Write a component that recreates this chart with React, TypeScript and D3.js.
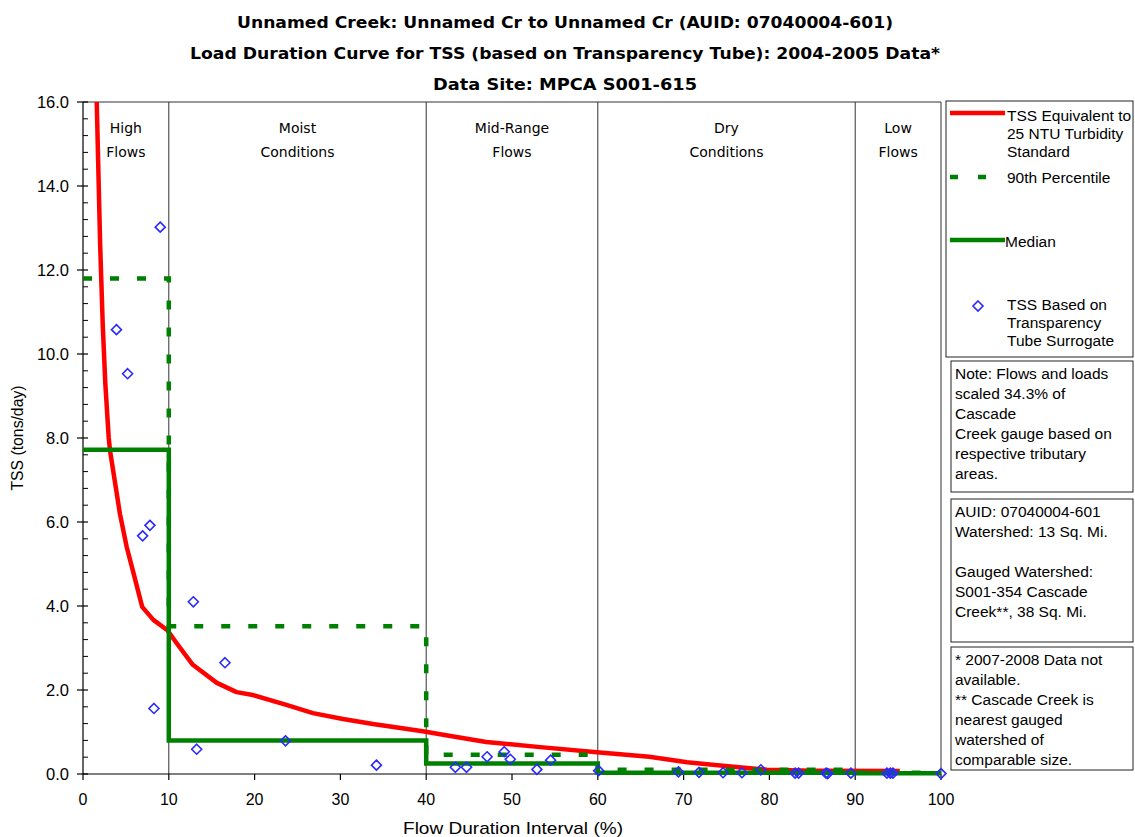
import React from "react";
import * as d3 from "d3";

// Load duration curve data (flow duration interval %, TSS tons/day)
const standardCurve: [number, number][] = [
  [1.6, 16.0], [2.0, 12.6], [2.3, 10.7], [2.6, 9.3], [3.0, 8.0], [3.15, 7.7],
  [4.3, 6.2], [5.1, 5.4], [5.7, 4.93], [6.9, 3.98], [8.2, 3.67], [9.8, 3.43],
  [10.9, 3.12], [12.8, 2.6], [15.6, 2.17], [17.9, 1.95], [19.8, 1.88],
  [23.8, 1.64], [26.8, 1.45], [30.3, 1.31], [33.8, 1.19], [39.6, 1.02],
  [43.0, 0.9], [47.0, 0.76], [53.3, 0.64], [59.9, 0.52], [66.0, 0.41],
  [70.4, 0.28], [75.8, 0.17], [79.7, 0.1], [85.0, 0.08], [95.2, 0.07],
];

const zoneBreaks = [0, 10, 40, 60, 90, 100];
const percentile90 = [11.8, 3.52, 0.46, 0.1, 0.03];
const medianValues = [7.72, 0.8, 0.25, 0.03, 0.02];

const tssSamples: [number, number][] = [
  [3.9, 10.58], [5.2, 9.53], [6.95, 5.67], [7.8, 5.92], [8.27, 1.56],
  [9.0, 13.02], [12.86, 4.1], [13.25, 0.59], [16.55, 2.65], [23.6, 0.79],
  [34.2, 0.21], [43.4, 0.16], [44.7, 0.16], [47.1, 0.41], [49.1, 0.53],
  [49.8, 0.35], [52.9, 0.11], [54.5, 0.33], [60.1, 0.08], [69.4, 0.05],
  [71.8, 0.04], [74.6, 0.03], [76.8, 0.03], [79.0, 0.1], [83.0, 0.02],
  [83.4, 0.02], [86.6, 0.02], [86.8, 0.01], [89.5, 0.02], [93.7, 0.02],
  [94.1, 0.02], [94.4, 0.02], [100, 0.01],
];

const zoneNames: [string, string][] = [
  ["High", "Flows"],
  ["Moist", "Conditions"],
  ["Mid-Range", "Flows"],
  ["Dry", "Conditions"],
  ["Low", "Flows"],
];

const titleLines = [
  "Unnamed Creek: Unnamed Cr to Unnamed Cr (AUID: 07040004-601)",
  "Load Duration Curve for TSS (based on Transparency Tube): 2004-2005 Data*",
  "Data Site: MPCA S001-615",
];

const xTicks = d3.range(0, 101, 10);
const yMajorTicks = d3.range(0, 16.01, 2);
const yMinorTicks = d3.range(0, 16.01, 0.4).filter((v) => Math.abs(v / 2 - Math.round(v / 2)) > 0.01);

const legendStandard = ["TSS Equivalent to", "25 NTU Turbidity", "Standard"];
const legendP90 = ["90th Percentile"];
const legendMedian = ["Median"];
const legendSamples = ["TSS Based on", "Transparency", "Tube Surrogate"];

const noteLines = [
  "Note: Flows and loads",
  "scaled 34.3% of",
  "Cascade",
  "Creek gauge based on",
  "respective tributary",
  "areas.",
];
const watershedLines = [
  "AUID: 07040004-601",
  "Watershed: 13 Sq. Mi.",
  "",
  "Gauged Watershed:",
  "S001-354 Cascade",
  "Creek**, 38 Sq. Mi.",
];
const footnoteLines = [
  "* 2007-2008 Data not",
  "available.",
  "** Cascade Creek is",
  "nearest gauged",
  "watershed of",
  "comparable size.",
];

const W = 1135;
const H = 837;
const PL = 83, PR = 941, PT = 102, PB = 774;

const RED = "#ff0000";
const GREEN = "#008000";
const BLUE = "#2a2aff";
const SANS = "'Liberation Sans', Arial, sans-serif";
const HAND = "'Comic Sans MS', 'DejaVu Sans', sans-serif";
const BOX_FONT = 15.5;

function stepPoints(values: number[]): [number, number][] {
  const pts: [number, number][] = values.map((v, i) => [zoneBreaks[i], v]);
  pts.push([zoneBreaks[zoneBreaks.length - 1], values[values.length - 1]]);
  return pts;
}

function Diamond({ cx, cy, r }: { cx: number; cy: number; r: number }) {
  return (
    <path
      d={`M${cx},${cy - r}L${cx + r},${cy}L${cx},${cy + r}L${cx - r},${cy}Z`}
      fill="none"
      stroke={BLUE}
      strokeWidth={1.6}
    />
  );
}

export default function App() {
  const x = d3.scaleLinear().domain([0, 100]).range([PL, PR]);
  const y = d3.scaleLinear().domain([0, 16]).range([PB, PT]);

  const line = d3.line<[number, number]>().x((d) => x(d[0])).y((d) => y(d[1]));
  const step = d3
    .line<[number, number]>()
    .x((d) => x(d[0]))
    .y((d) => y(d[1]))
    .curve(d3.curveStepAfter);

  const legendX = 950;
  const textX = 1007;

  return (
    <svg
      width={W}
      height={H}
      style={{ position: "absolute", left: 0, top: 0, background: "#fff" }}
      fontFamily={SANS}
    >
      <rect x={0} y={0} width={W} height={H} fill="#fff" />

      {/* Title */}
      {titleLines.map((t, i) => (
        <text
          key={t}
          x={565}
          y={28 + i * 31}
          textAnchor="middle"
          fontFamily={HAND}
          fontWeight="bold"
          fontSize={16}
          fill="#000"
          textLength={[656, 750, 264][i]}
          lengthAdjust="spacingAndGlyphs"
        >
          {t}
        </text>
      ))}

      {/* Plot frame and flow-zone dividers */}
      <line x1={PL} x2={PR} y1={PT} y2={PT} stroke="#333" strokeWidth={1} />
      <line x1={PR} x2={PR} y1={PT} y2={PB} stroke="#333" strokeWidth={1} />
      {zoneBreaks.slice(1, -1).map((b) => (
        <line key={b} x1={x(b)} x2={x(b)} y1={PT} y2={PB} stroke="#333" strokeWidth={1} />
      ))}

      {/* Zone labels */}
      {zoneNames.map((n, i) => {
        const cx = x((zoneBreaks[i] + zoneBreaks[i + 1]) / 2);
        return (
          <g key={n.join(" ")} fontFamily={HAND} fontSize={14} textAnchor="middle" fill="#000">
            <text x={cx} y={133}>{n[0]}</text>
            <text x={cx} y={157}>{n[1]}</text>
          </g>
        );
      })}

      {/* Y axis */}
      <line x1={PL} x2={PL} y1={PT} y2={PB} stroke="#000" strokeWidth={1.2} />
      {yMajorTicks.map((v) => (
        <g key={`ym${v}`}>
          <line x1={PL - 6} x2={PL + 5} y1={y(v)} y2={y(v)} stroke="#000" strokeWidth={1.2} />
          <text x={PL - 14} y={y(v) + 6} textAnchor="end" fontSize={16.5} fill="#000">
            {d3.format(".1f")(v)}
          </text>
        </g>
      ))}
      {yMinorTicks.map((v) => (
        <line key={`yn${v}`} x1={PL} x2={PL + 5} y1={y(v)} y2={y(v)} stroke="#000" strokeWidth={1} />
      ))}
      <text
        transform={`translate(23,${(PT + PB) / 2}) rotate(-90)`}
        textAnchor="middle"
        fontSize={16}
        fill="#000"
        textLength={105}
        lengthAdjust="spacingAndGlyphs"
      >
        TSS (tons/day)
      </text>

      {/* X axis */}
      <line x1={PL} x2={PR} y1={PB} y2={PB} stroke="#000" strokeWidth={1.2} />
      {xTicks.map((v) => (
        <g key={`x${v}`}>
          <line x1={x(v)} x2={x(v)} y1={PB} y2={PB + 6} stroke="#000" strokeWidth={1.2} />
          <text x={x(v)} y={PB + 31} textAnchor="middle" fontSize={16} fill="#000">
            {v}
          </text>
        </g>
      ))}
      <text
        x={513}
        y={834}
        textAnchor="middle"
        fontSize={17}
        fill="#000"
        textLength={220}
        lengthAdjust="spacingAndGlyphs"
      >
        Flow Duration Interval (%)
      </text>

      {/* Series */}
      <path d={line(standardCurve) ?? ""} fill="none" stroke={RED} strokeWidth={4.5} strokeLinejoin="round" />
      <path
        d={step(stepPoints(percentile90)) ?? ""}
        fill="none"
        stroke={GREEN}
        strokeWidth={4.5}
        strokeDasharray="9,18"
      />
      <path d={step(stepPoints(medianValues)) ?? ""} fill="none" stroke={GREEN} strokeWidth={4.5} />
      {tssSamples.map((d, i) => (
        <Diamond key={i} cx={x(d[0])} cy={y(d[1])} r={5} />
      ))}

      {/* Legend */}
      <rect x={946} y={101} width={187} height={256} fill="#fff" stroke="#222" strokeWidth={1} />
      <line x1={legendX} x2={1005} y1={113} y2={113} stroke={RED} strokeWidth={4.5} />
      {legendStandard.map((t, i) => (
        <text key={t} x={textX} y={121 + i * 18} fontSize={BOX_FONT} fill="#000">{t}</text>
      ))}
      <line x1={legendX} x2={1005} y1={177} y2={177} stroke={GREEN} strokeWidth={4.5} strokeDasharray="8,20" />
      {legendP90.map((t) => (
        <text key={t} x={textX} y={183} fontSize={BOX_FONT} fill="#000">{t}</text>
      ))}
      <line x1={legendX} x2={1005} y1={240} y2={240} stroke={GREEN} strokeWidth={4.5} />
      {legendMedian.map((t) => (
        <text key={t} x={1005} y={247} fontSize={BOX_FONT} fill="#000">{t}</text>
      ))}
      <Diamond cx={978} cy={306} r={5} />
      {legendSamples.map((t, i) => (
        <text key={t} x={textX} y={310 + i * 18} fontSize={BOX_FONT} fill="#000">{t}</text>
      ))}

      {/* Notes */}
      {[
        { lines: noteLines, top: 361, bottom: 492 },
        { lines: watershedLines, top: 499, bottom: 642 },
        { lines: footnoteLines, top: 647, bottom: 770 },
      ].map((b, bi) => (
        <g key={bi}>
          <rect x={951} y={b.top} width={182} height={b.bottom - b.top} fill="#fff" stroke="#222" strokeWidth={1} />
          {b.lines.map((t, i) => (
            <text key={i} x={955} y={b.top + 18 + i * 20} fontSize={BOX_FONT} fill="#000">{t}</text>
          ))}
        </g>
      ))}
    </svg>
  );
}
